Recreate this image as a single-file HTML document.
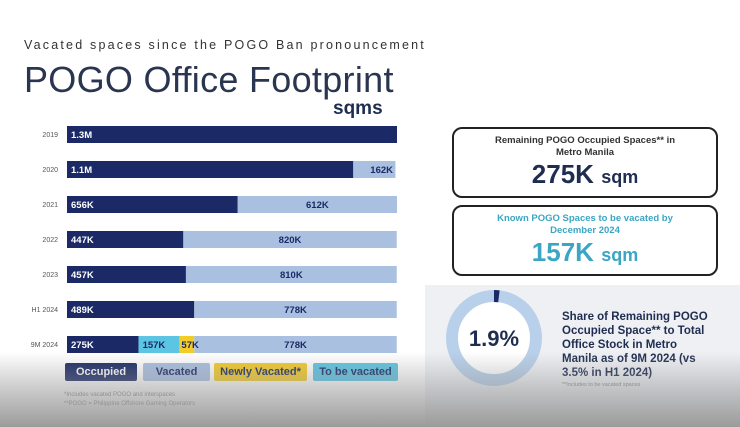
<!DOCTYPE html>
<html><head><meta charset="utf-8"><style>
body{margin:0;width:740px;height:427px;overflow:hidden;background:#fff;font-family:"Liberation Sans",sans-serif;position:relative}
.abs{position:absolute}
.box{position:absolute;border:2px solid #222;border-radius:10px;text-align:center;background:#fff}
.leg{position:absolute;top:363px;height:18px;font-size:11px;font-weight:bold;line-height:18px;text-align:center;border-radius:2px}
</style></head><body>
<div class="abs" style="left:425px;top:285px;width:315px;height:142px;background:#eef0f4"></div>
<div class="abs" style="left:24px;top:38px;font-size:12.5px;letter-spacing:2.2px;color:#333">Vacated spaces since the POGO Ban pronouncement</div>
<div class="abs" style="left:24px;top:59px;font-size:36px;color:#2a3550;font-weight:300;letter-spacing:0.3px">POGO Office Footprint</div>
<div class="abs" style="left:333px;top:98px;font-size:19px;font-weight:bold;color:#1f2d50">sqms</div>
<svg class="abs" style="left:0;top:0" width="420" height="427" id="chart"></svg>
<div class="leg" style="left:65px;width:72px;background:#1b2a66;color:#fff">Occupied</div>
<div class="leg" style="left:143px;width:67px;background:#a9c0e0;color:#1b2a66">Vacated</div>
<div class="leg" style="left:214px;width:93px;background:#f3cc28;color:#1b2a66">Newly Vacated*</div>
<div class="leg" style="left:313px;width:85px;background:#5bc5e3;color:#1b2a66">To be vacated</div>
<div class="abs" style="left:64px;top:391px;font-size:6px;color:#888;line-height:9px">*Includes vacated POGO and interspaces<br>**POGO = Philippine Offshore Gaming Operators</div>
<div class="box" style="left:452px;top:127px;width:262px;height:67px">
<div style="font-size:9.5px;font-weight:bold;color:#333;margin-top:6px;line-height:12px">Remaining POGO Occupied Spaces** in<br>Metro Manila</div>
<div style="font-size:26px;font-weight:bold;color:#1f2d50;margin-top:0px"><span>275K</span> <span style="font-size:18px">sqm</span></div></div>
<div class="box" style="left:452px;top:205px;width:262px;height:67px">
<div style="font-size:9.5px;font-weight:bold;color:#3aa6c4;margin-top:6px;line-height:12px">Known POGO Spaces to be vacated by<br>December 2024</div>
<div style="font-size:26px;font-weight:bold;color:#3aa6c4"><span>157K</span> <span style="font-size:18px">sqm</span></div></div>
<svg class="abs" style="left:440px;top:285px" width="110" height="110">
<circle cx="54" cy="53" r="42" fill="#fff" stroke="#b8d0ea" stroke-width="12"/>
<path d="M54 11 A42 42 0 0 1 58.9 11.3" fill="none" stroke="#1b2a66" stroke-width="12"/>
<text x="54" y="61" text-anchor="middle" font-size="22" font-weight="bold" fill="#1f2d50" font-family="Liberation Sans">1.9%</text>
</svg>
<div class="abs" style="left:562px;top:310px;font-size:11.5px;font-weight:bold;color:#1f2d50;line-height:14px">Share of Remaining POGO<br>Occupied Space** to Total<br>Office Stock in Metro<br>Manila as of 9M 2024 (vs<br>3.5% in H1 2024)</div>
<div class="abs" style="left:562px;top:382px;font-size:5.5px;color:#888">**Includes to be vacated spaces</div>
<div class="abs" style="left:0;top:352px;width:740px;height:75px;background:linear-gradient(rgba(150,150,150,0),rgba(150,150,150,0.45) 45%,rgba(150,150,150,0.95));pointer-events:none"></div>
<script>
const categories=["2019","2020","2021","2022","2023","H1 2024","9M 2024"];
const occupied=[1268,1100,656,447,457,489,275];
const toBeVacated=[0,0,0,0,0,0,157];
const newlyVacated=[0,0,0,0,0,0,57];
const vacated=[0,162,612,820,810,778,778];
const occLabels=["1.3M","1.1M","656K","447K","457K","489K","275K"];
const tbvLabels=["","","","","","","157K"];
const nvLabels=["","","","","","","57K"];
const vacLabels=["","162K","612K","820K","810K","778K","778K"];
const svg=document.getElementById('chart');
const NS="http://www.w3.org/2000/svg";
const x0=67,x1=397,maxV=1268;
const xs=v=>v/maxV*(x1-x0);
const yRow=i=>126+i*35;
const bh=17;
const series=[[occupied,occLabels,"#1b2a66","#fff","start"],[toBeVacated,tbvLabels,"#5bc5e3","#1b2a66","start"],[newlyVacated,nvLabels,"#f3cc28","#1b2a66","start"],[vacated,vacLabels,"#a9c0e0","#1b2a66","middle"]];
const labelLayer=[];
categories.forEach((c,i)=>{
  const t=document.createElementNS(NS,'text');
  
  
  t.setAttribute('x',58);t.setAttribute('y',yRow(i)+bh/2+2.5);
  t.setAttribute('text-anchor','end');t.setAttribute('font-size','7');t.setAttribute('fill','#555');
  t.textContent=c;svg.appendChild(t);
  let cx=x0;
  series.forEach(([vals,labs,fill,tc,anc],si)=>{
    const v=vals[i];if(!v)return;
    const w=xs(v);
    const r=document.createElementNS(NS,'rect');
    
    
    r.setAttribute('x',cx);r.setAttribute('y',yRow(i));r.setAttribute('width',w);r.setAttribute('height',bh);r.setAttribute('fill',fill);
    svg.appendChild(r);
    if(labs[i]){
      const l=document.createElementNS(NS,'text');
      
      
      let lx=anc==="middle"?cx+w/2:cx+4;
      if(si===3&&w<80){lx=x1-4;l.setAttribute('text-anchor','end');} else l.setAttribute('text-anchor',anc);
      if(si===2)lx=cx+2;
      l.setAttribute('x',lx);l.setAttribute('y',yRow(i)+bh/2+3.5);
      l.setAttribute('font-size','9.5');l.setAttribute('font-weight','bold');l.setAttribute('fill',tc);
      l.textContent=labs[i];labelLayer.push(l);
    }
    cx+=w;
  });
});
labelLayer.forEach(l=>svg.appendChild(l));
</script>
</body></html>
